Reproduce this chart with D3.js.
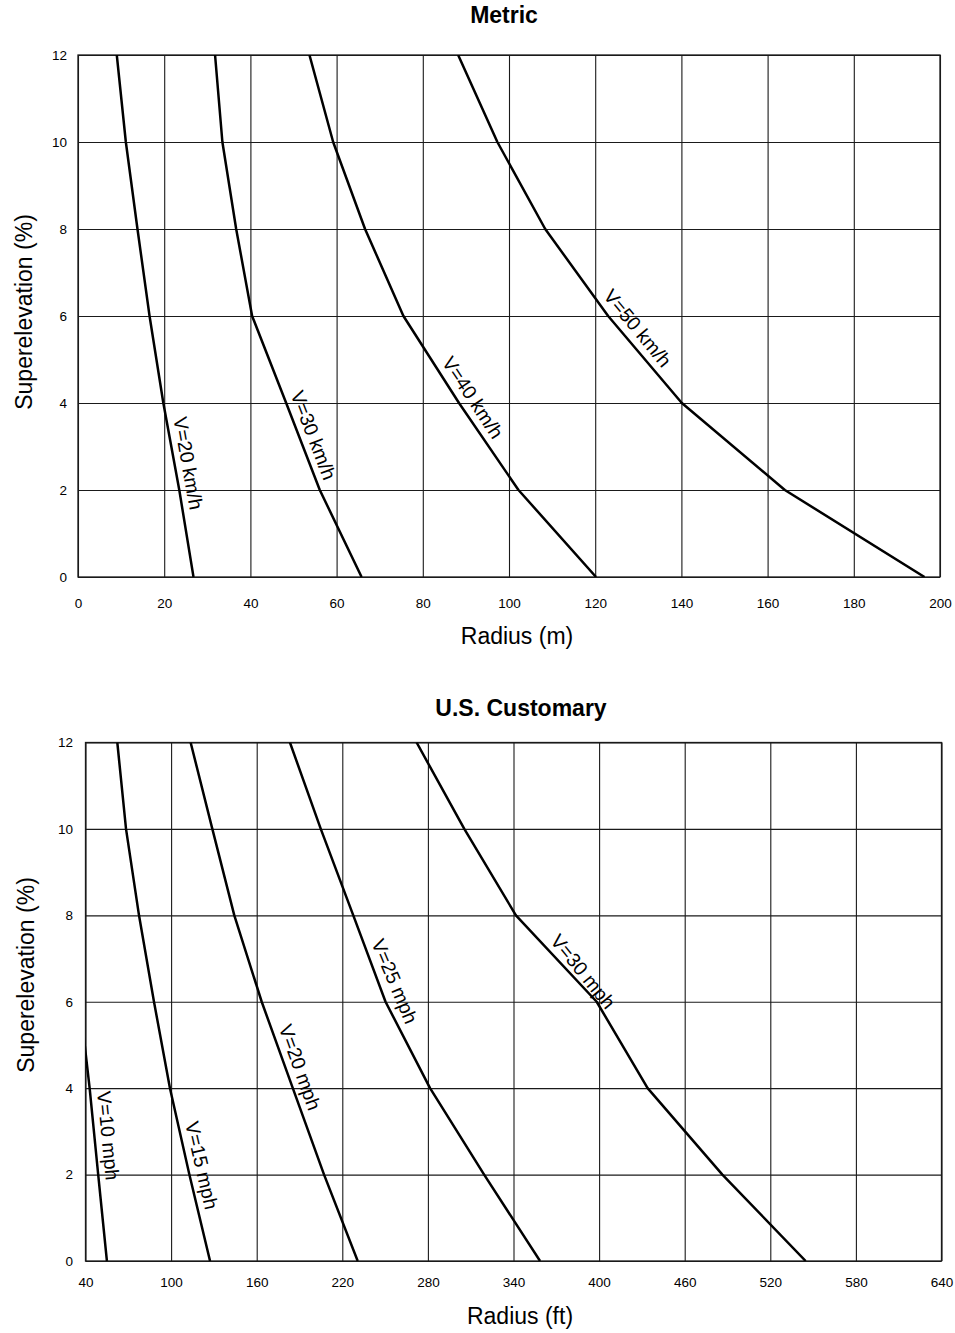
<!DOCTYPE html>
<html>
<head>
<meta charset="utf-8">
<script src="https://cdn.jsdelivr.net/npm/d3@7"></script>
<style>
  html, body { margin: 0; padding: 0; background: #fff; }
  svg { display: block; font-family: "Liberation Sans", Arial, Helvetica, sans-serif; }
</style>
</head>
<body>
<svg id="chart" width="955" height="1333"></svg>
<script>
// ---------------- DATA ----------------
// Superelevation levels (%) at which radii were read
const superelevation = [0, 2, 4, 6, 8, 10, 12];

// Metric chart
const metricTitle = "Metric";
const metricXLabel = "Radius (m)";
const metricXTicks = [0, 20, 40, 60, 80, 100, 120, 140, 160, 180, 200];
const metricSpeeds = ["V=20 km/h", "V=30 km/h", "V=40 km/h", "V=50 km/h"];
const metricRadius20 = [26.8, 23.5, 19.8, 16.6, 13.8, 11.1, 9.0];
const metricRadius30 = [65.8, 56.1, 48.3, 40.4, 36.7, 33.5, 31.8];
const metricRadius40 = [120.2, 102.2, 88.4, 75.5, 66.6, 59.2, 53.7];
const metricRadius50 = [196.4, 164.0, 140.1, 123.0, 108.4, 97.3, 88.2];
const metricLabelAt = [3.62, 4.15, 4.85, 6.35];   // superelevation where each label starts

// U.S. Customary chart
const usTitle = "U.S. Customary";
const usXLabel = "Radius (ft)";
const usXTicks = [40, 100, 160, 220, 280, 340, 400, 460, 520, 580, 640];
const usSpeeds = ["V=10 mph", "V=15 mph", "V=20 mph", "V=25 mph", "V=30 mph"];
const usSuperelevation10 = [0, 2, 4, 6];
const usRadius10 = [55.0, 48.9, 42.9, 36.0];
const usRadius15 = [127.3, 112.8, 99.2, 88.0, 77.5, 68.4, 62.3];
const usRadius20 = [230.8, 207.2, 185.3, 163.5, 144.3, 128.9, 113.7];
const usRadius25 = [358.6, 319.4, 281.5, 250.3, 227.7, 204.9, 183.3];
const usRadius30 = [544.8, 486.4, 434.0, 398.3, 341.7, 305.5, 272.1];
const usLabelAt = [3.9, 3.15, 5.35, 7.3, 7.3];

const yTicks = [0, 2, 4, 6, 8, 10, 12];
const yLabel = "Superelevation (%)";

// ---------------- DRAW ----------------
const svg = d3.select("#chart");
svg.append("rect").attr("width", 955).attr("height", 1333).attr("fill", "#fff");

function zip(es, rs) { return es.map((e, i) => ({ e: e, r: rs[i] })); }

function drawChart(cfg, id) {
  const w = cfg.right - cfg.left, h = cfg.bottom - cfg.top;
  const g = svg.append("g").attr("transform", `translate(${cfg.left},${cfg.top})`);
  const x = d3.scaleLinear().domain(cfg.xDomain).range([0, w]);
  const y = d3.scaleLinear().domain([0, 12]).range([h, 0]);

  // x grid + labels
  const xa = g.append("g").attr("transform", `translate(0,${h})`)
    .call(d3.axisBottom(x).tickValues(cfg.xTicks).tickSize(-h).tickPadding(cfg.xPad).tickFormat(d3.format("d")));
  xa.select(".domain").remove();
  xa.selectAll("line").attr("stroke", "#1a1a1a").attr("stroke-width", 1.1);
  xa.selectAll("text").attr("font-size", 13.5).attr("fill", "#000").attr("font-family", "Liberation Sans, Arial, sans-serif");

  const ya = g.append("g")
    .call(d3.axisLeft(y).tickValues(yTicks).tickSize(-w).tickPadding(cfg.yPad).tickFormat(d3.format("d")));
  ya.select(".domain").remove();
  ya.selectAll("line").attr("stroke", "#1a1a1a").attr("stroke-width", 1.1);
  ya.selectAll("text").attr("font-size", 13.5).attr("fill", "#000").attr("font-family", "Liberation Sans, Arial, sans-serif");

  g.append("rect").attr("width", w).attr("height", h).attr("fill", "none")
    .attr("stroke", "#1a1a1a").attr("stroke-width", 1.3);

  g.append("clipPath").attr("id", "clip" + id)
    .append("rect").attr("width", w).attr("height", h);

  const line = d3.line().x(d => x(d.r)).y(d => y(d.e));
  const plot = g.append("g").attr("clip-path", `url(#clip${id})`);

  cfg.series.forEach(s => {
    const pts = zip(s.e, s.r);
    plot.append("path").datum(pts).attr("d", line)
      .attr("fill", "none").attr("stroke", "#000").attr("stroke-width", 2.5)
      .attr("stroke-linejoin", "round");

    // label positioned along the curve
    const interp = ev => {
      const rr = d3.scaleLinear().domain(s.e).range(s.r)(ev);
      return [x(rr), y(ev)];
    };
    const p0 = interp(s.labelAt);
    const p1 = interp(Math.max(s.labelAt - 2, 0));
    const ang = Math.atan2(p1[1] - p0[1], p1[0] - p0[0]);
    const deg = ang * 180 / Math.PI;
    const off = 7;
    const ux = Math.sin(ang), uy = -Math.cos(ang);
    const bx = p0[0] + ux * off, by = p0[1] + uy * off;
    g.append("text").attr("transform", `translate(${bx},${by}) rotate(${deg})`)
      .attr("font-size", 19.5).attr("fill", "#000").text(s.name);
  });

  // titles
  svg.append("text").attr("x", cfg.titleX).attr("y", cfg.titleY).attr("text-anchor", "middle")
    .attr("font-size", 23).attr("font-weight", "bold").text(cfg.title);
  svg.append("text").attr("x", cfg.xLabelX).attr("y", cfg.xLabelY).attr("text-anchor", "middle")
    .attr("font-size", 23).text(cfg.xLabel);
  svg.append("text").attr("transform", `translate(${cfg.yLabelX},${cfg.yLabelY}) rotate(-90)`)
    .attr("text-anchor", "middle").attr("font-size", 23).text(yLabel);
}

drawChart({
  left: 78, top: 55, right: 940, bottom: 577,
  xDomain: [0, 200], xTicks: metricXTicks, xPad: 21, yPad: 11,
  title: metricTitle, titleX: 504, titleY: 23,
  xLabel: metricXLabel, xLabelX: 517, xLabelY: 644,
  yLabelX: 32, yLabelY: 312,
  series: [
    { name: metricSpeeds[0], e: superelevation, r: metricRadius20, labelAt: metricLabelAt[0] },
    { name: metricSpeeds[1], e: superelevation, r: metricRadius30, labelAt: metricLabelAt[1] },
    { name: metricSpeeds[2], e: superelevation, r: metricRadius40, labelAt: metricLabelAt[2] },
    { name: metricSpeeds[3], e: superelevation, r: metricRadius50, labelAt: metricLabelAt[3] }
  ]
}, 1);

drawChart({
  left: 85.5, top: 742.5, right: 941.5, bottom: 1261,
  xDomain: [40, 640], xTicks: usXTicks, xPad: 16, yPad: 12.5,
  title: usTitle, titleX: 521, titleY: 716,
  xLabel: usXLabel, xLabelX: 520, xLabelY: 1324,
  yLabelX: 34, yLabelY: 975,
  series: [
    { name: usSpeeds[0], e: usSuperelevation10, r: usRadius10, labelAt: usLabelAt[0] },
    { name: usSpeeds[1], e: superelevation, r: usRadius15, labelAt: usLabelAt[1] },
    { name: usSpeeds[2], e: superelevation, r: usRadius20, labelAt: usLabelAt[2] },
    { name: usSpeeds[3], e: superelevation, r: usRadius25, labelAt: usLabelAt[3] },
    { name: usSpeeds[4], e: superelevation, r: usRadius30, labelAt: usLabelAt[4] }
  ]
}, 2);
</script>
</body>
</html>
